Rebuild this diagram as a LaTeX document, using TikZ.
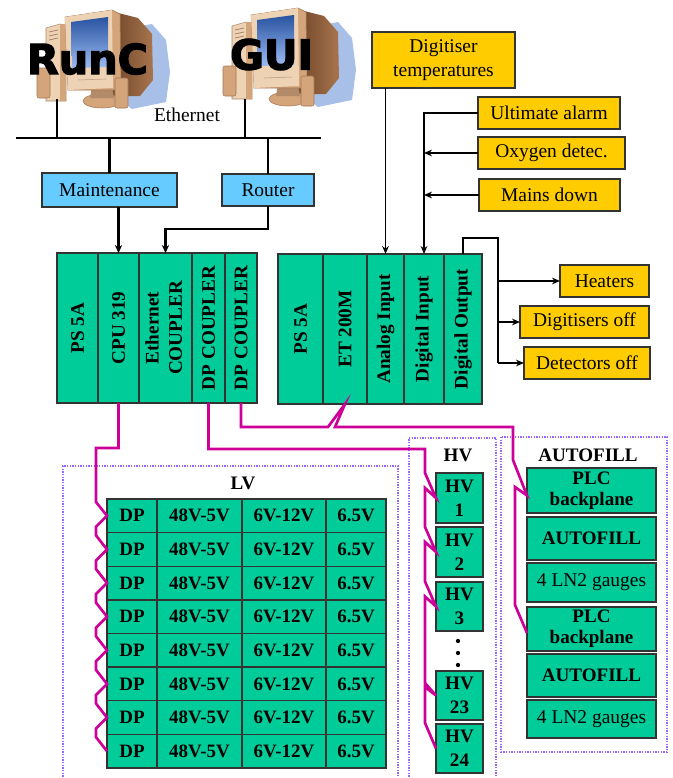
\documentclass[tikz,border=0pt]{standalone}
\usepackage{fontspec}
\setmainfont{Liberation Serif}
\newfontfamily\pcfont{DejaVu Sans}[BoldFeatures={FakeBold=3}]
\usetikzlibrary{arrows.meta,calc}

\definecolor{rackgreen}{HTML}{00CC99}
\definecolor{alarmyel}{HTML}{FFCC00}
\definecolor{netblue}{HTML}{66CCFF}
\definecolor{dpmag}{HTML}{CC0099}
\definecolor{dotpurple}{HTML}{9966FF}
\definecolor{edgegray}{HTML}{333333}
\definecolor{pctan}{HTML}{D4A47A}
\definecolor{pcbrown}{HTML}{8A5530}
\definecolor{pclight}{HTML}{EED2B4}
\definecolor{pcshadow}{HTML}{A8C0E8}
\definecolor{pcscreen}{HTML}{3A78E6}

% box by its corners (pixel coordinates): [style]{x1}{y1}{x2}{y2}{name}
\newcommand{\rbox}[6][]{\node[#1, minimum width={(#4-#2)*0.75pt}, minimum height={(#5-#3)*0.75pt}] (#6) at ({(#2+#4)/2},{(#3+#5)/2})}

\newcommand{\pcart}{%
 \fill[pcshadow] (120,30) -- (152,24) -- (166,40) -- (170,72) -- (166,102) -- (132,109) -- (120,100) -- cycle;
 \shade[left color=pcbrown!80!black, right color=pcbrown!60!pctan] (110,11) -- (138,18) -- (152,34) -- (153,80) -- (140,96) -- (112,96) -- cycle;
 \filldraw[fill=pclight, draw=pcbrown!70, line width=0.4pt] (46,28) -- (60,24) -- (66,25) -- (66,101) -- (46,101) -- cycle;
 \fill[pctan] (60,24) -- (66,25) -- (66,101) -- (60,101) -- cycle;
 \draw[pcbrown!80, line width=0.5pt] (49,32) -- (58,30) (49,36) -- (58,34) (49,40) -- (58,38);
 \filldraw[fill=pctan, draw=pcbrown!80, line width=0.4pt] (102,101) ellipse [x radius=19, y radius=7];
 \fill[pctan!85!black] (92,86) -- (112,86) -- (114,98) -- (90,98) -- cycle;
 \filldraw[fill=pctan, draw=pcbrown!80, line width=0.4pt] (65,17) -- (112,10) -- (120,14) -- (121,87) -- (116,90) -- (68,90) -- cycle;
 \fill[pclight] (65,17) -- (112,10) -- (113,88) -- (68,90) -- cycle;
 \shade[top color=pcscreen!70!black, bottom color=pcscreen!50!white] (71,22) -- (108,17) -- (108,67) -- (72,68) -- cycle;
 \draw[pcbrown!60, line width=0.4pt] (78,80) -- (106,79);
 \filldraw[fill=pctan, draw=pcbrown!80, line width=0.4pt, rounded corners=1.5pt] (37,68) rectangle (50,98);
 \filldraw[fill=pctan, draw=pcbrown!80, line width=0.4pt, rounded corners=1.5pt] (115,78) rectangle (128,108);
}

\tikzset{
 boxbase/.style={draw=edgegray, line width=1pt, inner sep=0pt, outer sep=0pt, align=center, font=\fontsize{14.6}{17.5}\selectfont},
 col/.style={boxbase, fill=rackgreen, font=\fontsize{14.4}{17.5}\selectfont\bfseries},
 cell/.style={boxbase, fill=rackgreen, font=\fontsize{14.2}{16}\selectfont\bfseries},
 gbox/.style={boxbase, fill=rackgreen},
 hvbox/.style={boxbase, fill=rackgreen, font=\fontsize{14.3}{18}\selectfont\bfseries},
 plcbox/.style={boxbase, fill=rackgreen, font=\fontsize{14.3}{15.5}\selectfont\bfseries},
 ybox/.style={boxbase, fill=alarmyel},
 bbox/.style={boxbase, fill=netblue},
 net/.style={line width=1.9pt},
 netarrow/.style={line width=1.6pt, -{Stealth[length=6pt,width=5.5pt]}},
 sig/.style={line width=0.9pt},
 sigarrow/.style={sig, -{Stealth[length=6pt,width=5pt]}},
 dp/.style={dpmag, line width=2pt, line join=miter},
 group/.style={dotpurple, line width=1pt, densely dotted},
 head/.style={font=\fontsize{14.3}{17}\selectfont\bfseries, inner sep=0pt},
 lbl/.style={font=\fontsize{14.6}{17}\selectfont, inner sep=0pt},
 pctext/.style={font=\pcfont\bfseries\fontsize{31}{31}\selectfont, inner sep=0pt},
}

\begin{document}
\begin{tikzpicture}[x=0.75pt,y=-0.75pt]
\useasboundingbox (0,0) rectangle (672,778);
\clip (0,0) rectangle (672,778);
\fill[white] (0,0) rectangle (672,778);

% ---------- computers ----------
\pcart
\begin{scope}[shift={(186,-2)}]
 \pcart
\end{scope}
\node[pctext] (runc) at (87.5,59) {RunC};
\node[pctext] (gui) at (271.5,54.5) {GUI};

% ---------- ethernet ----------
\coordinate (busL) at (16,138);
\coordinate (busR) at (321,138);
\coordinate (pc1) at (57,99);
\coordinate (pc2) at (245,99);
\node[lbl] (ethlbl) at (187,115) {Ethernet};
\draw[net] (busL) -- (busR);
\draw[net] (pc1) -- (pc1 |- busL);
\draw[net] (pc2) -- (pc2 |- busL);

\rbox[bbox]{42}{173}{177}{207}{maint} {Maintenance};
\rbox[bbox]{222}{174}{314}{206}{router} {Router};
\draw[net] (maint.north |- busL) -- (maint.north);
\draw[net] (router.north |- busL) -- (router.north);

% ---------- rack 1 ----------
\rbox[col]{57}{253}{98}{403}{ps1} {\rotatebox{90}{PS 5A}};
\rbox[col]{98}{253}{139}{403}{cpu} {\rotatebox{90}{CPU 319}};
\rbox[col]{139}{253}{192}{403}{ethc} {\rotatebox{90}{\begin{tabular}{@{}c@{}}Ethernet\\COUPLER\end{tabular}}};
\rbox[col]{192}{253}{225}{403}{dpc1} {\rotatebox{90}{DP COUPLER}};
\rbox[col]{225}{253}{257}{403}{dpc2} {\rotatebox{90}{DP COUPLER}};

\draw[netarrow] (maint.south -| cpu.north) -- (cpu.north);
\draw[netarrow] (router.south) -- ++(0,23) -| (ethc.north);

% ---------- rack 2 ----------
\rbox[col]{278}{254}{323}{404}{ps2} {\rotatebox{90}{PS 5A}};
\rbox[col]{323}{254}{367}{404}{et} {\rotatebox{90}{ET 200M}};
\rbox[col]{367}{254}{404}{404}{ai} {\rotatebox{90}{Analog Input}};
\rbox[col]{404}{254}{444}{404}{di} {\rotatebox{90}{Digital Input}};
\rbox[col]{444}{254}{482}{404}{do} {\rotatebox{90}{Digital Output}};

% ---------- alarms ----------
\rbox[ybox]{372}{32}{515}{88}{dtemp} {Digitiser\\temperatures};
\rbox[ybox]{478}{97}{620}{129}{ualarm} {Ultimate alarm};
\rbox[ybox]{478}{137}{625}{169}{oxy} {Oxygen detec.};
\rbox[ybox]{479}{179}{620}{211}{mains} {Mains down};
\rbox[ybox]{560}{265}{649}{297}{heat} {Heaters};
\rbox[ybox]{520}{306}{649}{338}{digoff} {Digitisers off};
\rbox[ybox]{524}{347}{650}{379}{detoff} {Detectors off};

\draw[sigarrow] (dtemp.south -| ai.north) -- (ai.north);
\draw[sigarrow] (ualarm.west) -| (di.north);
\draw[sigarrow] (oxy.west) -- (oxy.west -| di.north);
\draw[sigarrow] (mains.west) -- (mains.west -| di.north);
\coordinate (dobus) at (498,238);
\draw[sig] (do.north) |- (dobus) -- (dobus |- detoff.west);
\draw[sigarrow] (dobus |- heat.west) -- (heat.west);
\draw[sigarrow] (dobus |- digoff.west) -- (digoff.west);
\draw[sigarrow] (dobus |- detoff.west) -- (detoff.west);

% ---------- groups ----------
\draw[group] (63,790) |- (398,466) -- (398,790);
\draw[group] (409,790) |- (496,438) -- (496,790);
\draw[group] (501,437) rectangle (667,752);
\node[head] (lvhead) at (243,483) {LV};
\node[head] (hvhead) at (458,455) {HV};
\node[head] (afhead) at (588,455) {AUTOFILL};

% ---------- LV table ----------
\foreach \r in {1,...,8} {
 \pgfmathsetmacro\yt{499+(\r-1)*33.625}
 \pgfmathsetmacro\yb{\yt+33.625}
 \rbox[cell]{107}{\yt}{157}{\yb}{lv-\r-1} {DP};
 \rbox[cell]{157}{\yt}{242}{\yb}{lv-\r-2} {48V-5V};
 \rbox[cell]{242}{\yt}{326}{\yb}{lv-\r-3} {6V-12V};
 \rbox[cell]{326}{\yt}{386}{\yb}{lv-\r-4} {6.5V};
}

% ---------- HV ----------
\rbox[hvbox]{436}{473}{483}{523}{hv1} {HV\\1};
\rbox[hvbox]{436}{527}{483}{577}{hv2} {HV\\2};
\rbox[hvbox]{436}{582}{483}{631}{hv3} {HV\\3};
\rbox[hvbox]{436}{671}{483}{720}{hv23} {HV\\23};
\rbox[hvbox]{436}{724}{483}{773}{hv24} {HV\\24};
\fill (458,641) circle[radius=1.6pt];
\fill (458,653) circle[radius=1.6pt];
\fill (458,665) circle[radius=1.6pt];

% ---------- AUTOFILL ----------
\rbox[plcbox]{527}{468}{656}{513}{plc1} {PLC\\backplane};
\rbox[plcbox]{527}{517}{656}{560}{af1} {AUTOFILL};
\rbox[gbox]{527}{563}{656}{602}{ln1} {4 LN2 gauges};
\rbox[plcbox]{527}{607}{656}{651}{plc2} {PLC\\backplane};
\rbox[plcbox]{527}{654}{656}{697}{af2} {AUTOFILL};
\rbox[gbox]{527}{700}{656}{738}{ln2} {4 LN2 gauges};

% ---------- DP (Profibus) lines ----------
\draw[dp] (cpu.south) |- (96,448) -- (96,502)
  \foreach \r in {1,...,7} { -- (lv-\r-1.west) -- ++(-11,11) -- ++(0,8.6) }
  -- (lv-8-1.west);
\draw[dp] (dpc1.south) |- (425,449) -- (425,473) -- (hv1.west) -- (425,488)
  -- (425,527) -- (hv2.west) -- (425,542)
  -- (425,581.5) -- (hv3.west) -- (425,596.5)
  -- (425,683) -- (hv23.west) -- (425,687)
  -- (425,723) -- (hv24.west);
\draw[dp] (dpc2.south) |- (328,427) -- (et.south) -- (335,427) -- (513,427) -- (513,460)
  -- ($(plc1.west)+(0,5)$) -- (515,487) -- (515,605) -- ($(plc2.west)+(0,4)$);
\end{tikzpicture}
\end{document}
